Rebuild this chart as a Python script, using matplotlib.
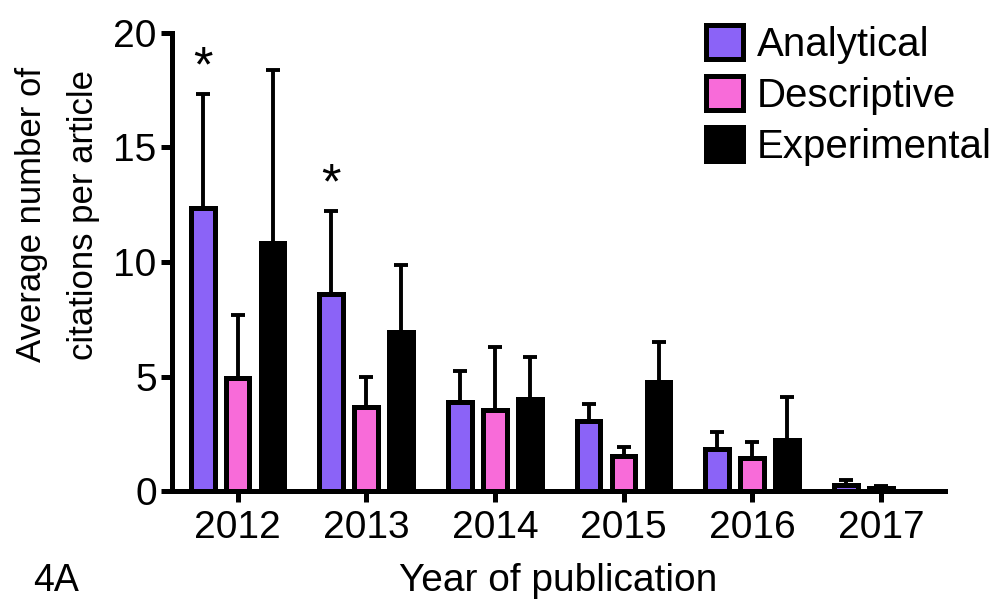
import matplotlib
matplotlib.use("Agg")
import matplotlib.pyplot as plt
import numpy as np
from matplotlib.patches import Patch

plt.rcParams['font.family'] = ['Liberation Sans', 'DejaVu Sans']

years = ['2012', '2013', '2014', '2015', '2016', '2017']
series = ['Analytical', 'Descriptive', 'Experimental']
colors = ['#8B63F7', '#F86BD9', '#000000']

analytical = [12.37, 8.60, 3.89, 3.06, 1.83, 0.25]
descriptive = [4.95, 3.68, 3.54, 1.54, 1.45, 0.15]
experimental = [10.83, 6.96, 4.02, 4.76, 2.23, 0.0]

analytical_err = [4.97, 3.63, 1.36, 0.74, 0.73, 0.25]
descriptive_err = [2.73, 1.30, 2.75, 0.39, 0.68, 0.05]
experimental_err = [7.55, 2.91, 1.83, 1.76, 1.89, 0.0]

significant = [True, True, False, False, False, False]

means = [analytical, descriptive, experimental]
errs = [analytical_err, descriptive_err, experimental_err]

fig = plt.figure(figsize=(9.97, 6.03), dpi=100)
ax = fig.add_axes([0.1725, 0.1857, 0.7755, 0.7596])

x = np.arange(len(years))
offset = 0.272
width = 0.185
lw = 3.6

for i, (vals, ev, col) in enumerate(zip(means, errs, colors)):
    pos = x + (i - 1) * offset
    ax.bar(pos, vals, width, color=col, edgecolor='black', linewidth=lw, zorder=3)
    ax.errorbar(pos, vals, yerr=[np.zeros(len(vals)), ev], fmt='none',
                ecolor='black', elinewidth=2.8, capsize=5, capthick=2.8, zorder=2)

# significance markers above the analytical bars
for xi, (sig, v, e) in enumerate(zip(significant, analytical, analytical_err)):
    if sig:
        ax.text(xi - offset, v + e + 0.1, '*', ha='center', va='bottom',
                fontsize=36)

ax.set_xlim(-0.51, 5.5)
ax.set_ylim(0, 20)
ax.set_yticks([0, 5, 10, 15, 20])
ax.set_xticks(x)
ax.set_xticklabels(years)

for side in ['top', 'right']:
    ax.spines[side].set_visible(False)
for side in ['left', 'bottom']:
    ax.spines[side].set_linewidth(lw)
    ax.spines[side].set_capstyle('projecting')

ax.tick_params(axis='both', which='major', direction='out', length=8, width=lw,
               labelsize=28)
ax.tick_params(axis='y', pad=3)
ax.tick_params(axis='x', pad=6)

ax.set_ylabel('Average number of\ncitations per article', fontsize=25,
              linespacing=1.75)
ax.yaxis.set_label_coords(-0.093, 0.603)
ax.set_xlabel('Year of publication', fontsize=28, labelpad=12)

fig.text(0.033, 0.02, '4A', fontsize=27, ha='left', va='baseline')

handles = [Patch(facecolor=c, edgecolor='black', linewidth=lw, label=s)
           for s, c in zip(series, colors)]
ax.legend(handles=handles, loc='upper left', bbox_to_anchor=(0.67, 1.052),
          frameon=False, fontsize=29, handlelength=0.92, handleheight=0.92,
          handletextpad=0.33, labelspacing=0.3, borderaxespad=0)

fig.savefig('out.png', dpi=100)
